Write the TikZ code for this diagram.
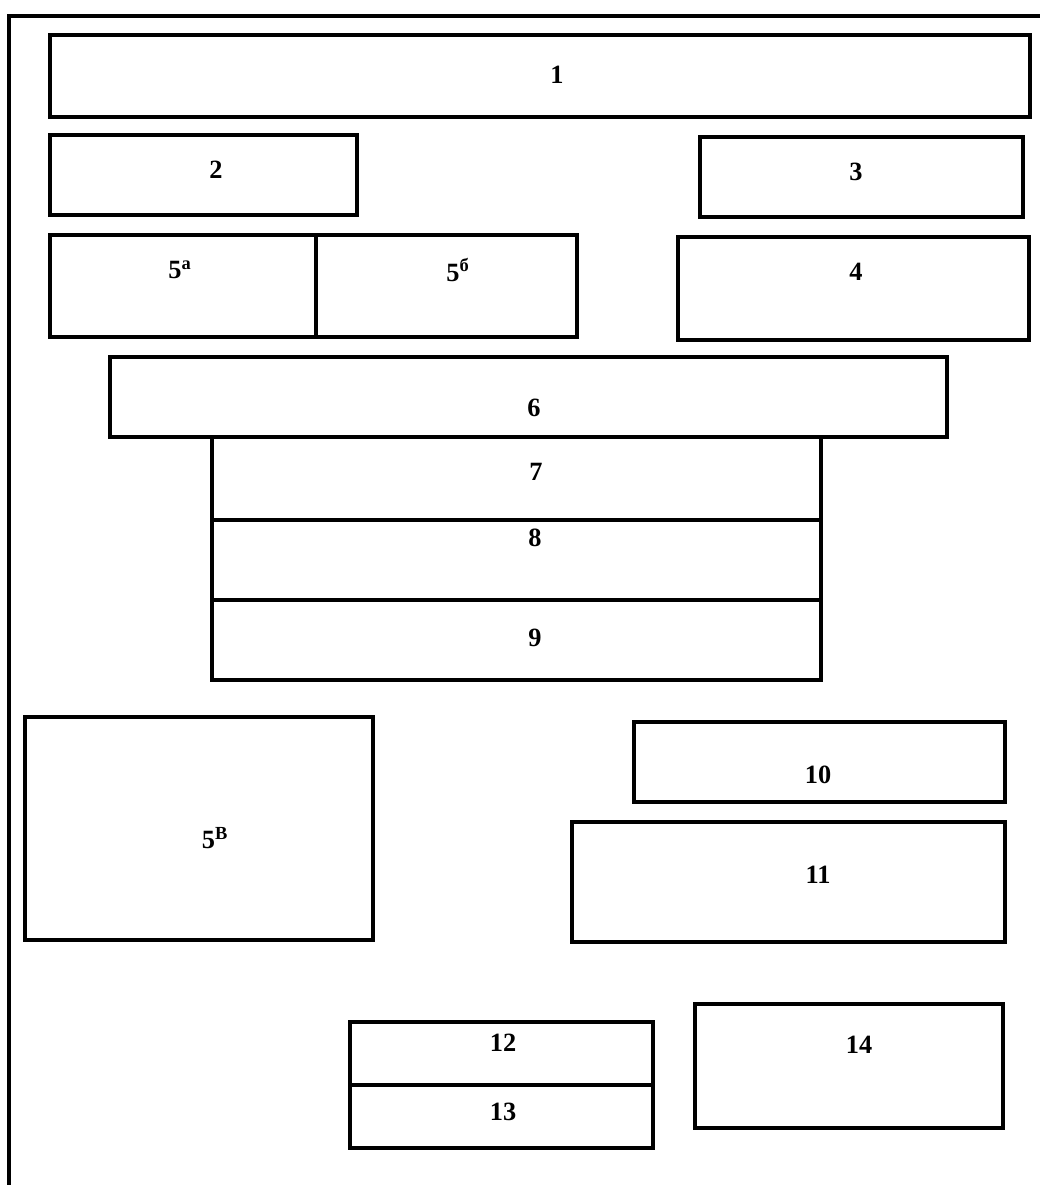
\documentclass[tikz,border=0pt]{standalone}
\usepackage{fontspec}
\setmainfont{Liberation Serif}
\usepackage{tikz}

\begin{document}
\begin{tikzpicture}[
  x=0.02cm, y=-0.02cm,
  box/.style={draw, line width=2.1pt},
  lbl/.style={font=\bfseries\fontsize{15}{18}\selectfont, inner sep=0pt}
]
\useasboundingbox (0,0) rectangle (1040,1185);
% Outer frame (only left and top edges visible)
\draw[box] (9,1185) -- (9,16) -- (1040,16);

% Top rows
\draw[box] (50,35) rectangle (1030,117);
\node[lbl] (n1) at (557,75) {1};
\draw[box] (50,135) rectangle (357,215);
\node[lbl] (n2) at (216,170) {2};
\draw[box] (700,137) rectangle (1023,217);
\node[lbl] (n3) at (856,172) {3};

% Row with 5a, 5b and 4
\draw[box] (50,235) rectangle (316,337);
\node[lbl] (n5a) at (180,270) {5\textsuperscript{а}};
\draw[box] (316,235) rectangle (577,337);
\node[lbl] (n5b) at (458,270) {5\textsuperscript{б}};
\draw[box] (678,237) rectangle (1029,340);
\node[lbl] (n4) at (856,272) {4};

% Central stack 6 to 9
\draw[box] (110,357) rectangle (947,437);
\node[lbl] (n6) at (534,408) {6};
\draw[box] (212,437) rectangle (821,520);
\node[lbl] (n7) at (536,472) {7};
\draw[box] (212,520) rectangle (821,600);
\node[lbl] (n8) at (535,538) {8};
\draw[box] (212,600) rectangle (821,680);
\node[lbl] (n9) at (535,638) {9};

% Lower left and right
\draw[box] (25,717) rectangle (373,940);
\node[lbl] (n5v) at (215,838) {5\textsuperscript{В}};
\draw[box] (634,722) rectangle (1005,802);
\node[lbl] (n10) at (818,775) {10};
\draw[box] (572,822) rectangle (1005,942);
\node[lbl] (n11) at (818,875) {11};

% Bottom row
\draw[box] (350,1022) rectangle (653,1085);
\node[lbl] (n12) at (503,1043) {12};
\draw[box] (350,1085) rectangle (653,1148);
\node[lbl] (n13) at (503,1112) {13};
\draw[box] (695,1004) rectangle (1003,1128);
\node[lbl] (n14) at (859,1045) {14};
\end{tikzpicture}
\end{document}
